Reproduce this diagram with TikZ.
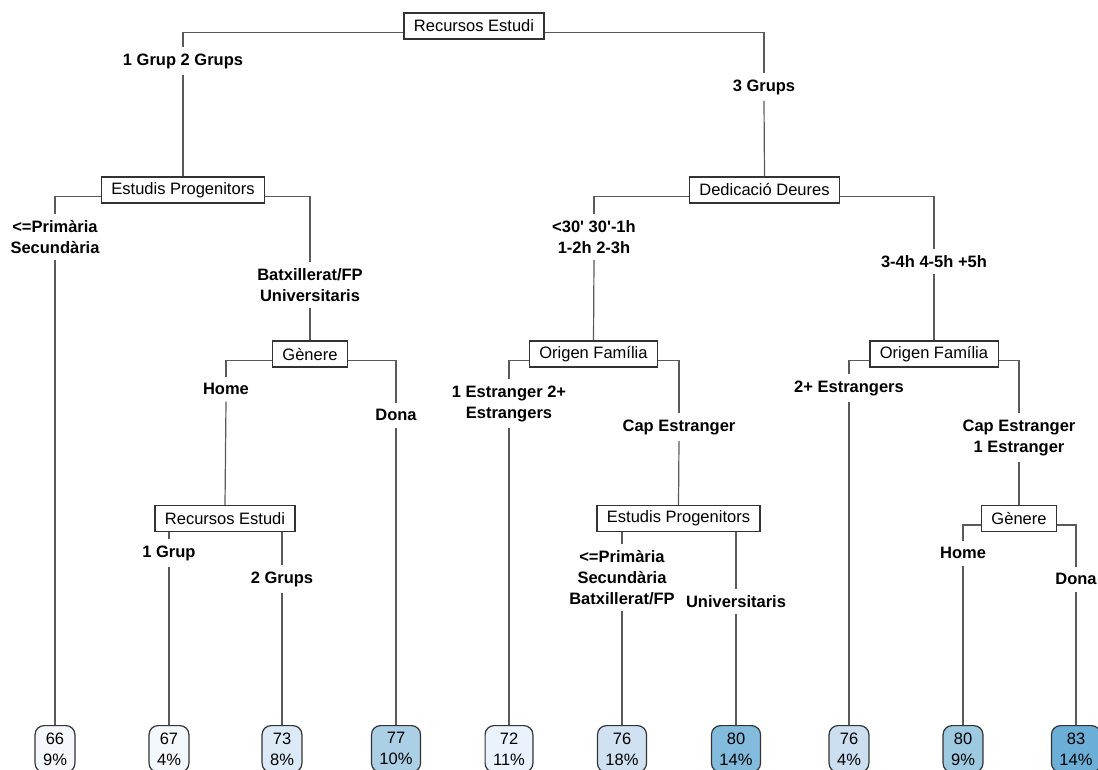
\documentclass[tikz,border=0pt]{standalone}
\usepackage{fontspec}
\setmainfont{Liberation Sans}[Ligatures=TeXOff]
\usetikzlibrary{backgrounds}
\definecolor{linegray}{HTML}{5A5A5A}
\definecolor{boxgray}{HTML}{333333}
\definecolor{lfa}{HTML}{F4F8FD}
\definecolor{lfb}{HTML}{F3F8FD}
\definecolor{lfc}{HTML}{DCE9F6}
\definecolor{lfd}{HTML}{ABD0E6}
\definecolor{lfe}{HTML}{EAF2FB}
\definecolor{lff}{HTML}{D0E2F2}
\definecolor{lfg}{HTML}{82BBDB}
\definecolor{lfh}{HTML}{CCDFF1}
\definecolor{lfi}{HTML}{9ECAE1}
\definecolor{lfj}{HTML}{6BAED6}
\tikzset{split/.style={draw=boxgray, line width=1.2pt, fill=white, inner xsep=10pt, inner ysep=0pt,
    minimum height=26pt, font=\fontsize{16.5}{21}\selectfont},
  lab/.style={anchor=north, align=center, inner sep=0pt, outer sep=6.5pt,
    font=\fontsize{16.5}{21}\selectfont\bfseries},
  leaf/.style={draw=boxgray, line width=1.2pt, rounded corners=9pt, anchor=north, align=center,
    inner xsep=8pt, inner ysep=7pt, font=\fontsize{16.5}{21}\selectfont},
  edge/.style={draw=linegray, line width=1.2pt}}

\begin{document}
\begin{tikzpicture}[x=1pt,y=-1pt]
   \useasboundingbox (0,0) rectangle (1098,769);
   \node[split] (a) at (474,26) {Recursos Estudi};
   \node[lab] (a1) at (183,47) {1 Grup 2 Grups};
   \node[lab] (a2) at (764,73) {3 Grups};
   \begin{scope}
    \node[split] (b) at (183,190) {Estudis Progenitors};
    \node[lab] (b1) at (55,214) {<=Primària\\Secundària};
    \node[lab] (b2) at (310,262) {Batxillerat/FP\\Universitaris};
    \node[split] (c) at (310,354) {Gènere};
    \node[lab] (c1) at (226,377) {Home};
    \node[lab] (c2) at (396,403) {Dona};
    \node[split] (d) at (225,518.5) {Recursos Estudi};
    \node[lab] (d1) at (169,539) {1 Grup};
    \node[lab] (d2) at (282,565) {2 Grups};
   \end{scope}
   \begin{scope}
    \node[split] (e) at (764.5,190) {Dedicació Deures};
    \node[lab] (e1) at (594,214) {<30' 30'-1h\\1-2h 2-3h};
    \node[lab] (e2) at (934,249) {3-4h 4-5h +5h};
    \node[split] (f) at (593.5,354) {Origen Família};
    \node[lab] (f1) at (509,379) {1 Estranger 2+\\Estrangers};
    \node[lab] (f2) at (679,413) {Cap Estranger};
    \node[split] (g) at (678.5,518.5) {Estudis Progenitors};
    \node[lab] (g1) at (622,544) {<=Primària\\Secundària\\Batxillerat/FP};
    \node[lab] (g2) at (736,589) {Universitaris};
    \node[split] (h) at (934,354) {Origen Família};
    \node[lab] (h1) at (849,374) {2+ Estrangers};
    \node[lab] (h2) at (1019,413) {Cap Estranger\\1 Estranger};
    \node[split] (k) at (1019,518.5) {Gènere};
    \node[lab] (k1) at (963,541) {Home};
    \node[lab] (k2) at (1076,567) {Dona};
   \end{scope}
   \node[leaf, fill=lfa] (l1) at (55,725) {66\\9\%};
   \node[leaf, fill=lfb] (l2) at (169,725) {67\\4\%};
   \node[leaf, fill=lfc] (l3) at (282,725) {73\\8\%};
   \node[leaf, fill=lfd] (l4) at (396,725) {77\\10\%};
   \node[leaf, fill=lfe] (l5) at (509,725) {72\\11\%};
   \node[leaf, fill=lff] (l6) at (622,725) {76\\18\%};
   \node[leaf, fill=lfg] (l7) at (736,725) {80\\14\%};
   \node[leaf, fill=lfh] (l8) at (849,725) {76\\4\%};
   \node[leaf, fill=lfi] (l9) at (963,725) {80\\9\%};
   \node[leaf, fill=lfj] (l10) at (1076,725) {83\\14\%};
   \begin{pgfonlayer}{background}
    \foreach \p/\q/\r in {a/a1/a2, b/b1/b2, c/c1/c2, d/d1/d2, e/e1/e2, f/f1/f2, g/g1/g2, h/h1/h2, k/k1/k2}
      \draw[edge] (\q.north) |- ([yshift=-6.5pt]\p.center) -| (\r.north);
    \foreach \q/\r in {a1/b, a2/e, b1/l1, b2/c, c1/d, c2/l4, d1/l2, d2/l3,
      e1/f, e2/h, f1/l5, f2/g, g1/l6, g2/l7, h1/l8, h2/k, k1/l9, k2/l10}
      \draw[edge] (\q.south) -- (\r.north);
   \end{pgfonlayer}
\end{tikzpicture}
\end{document}
